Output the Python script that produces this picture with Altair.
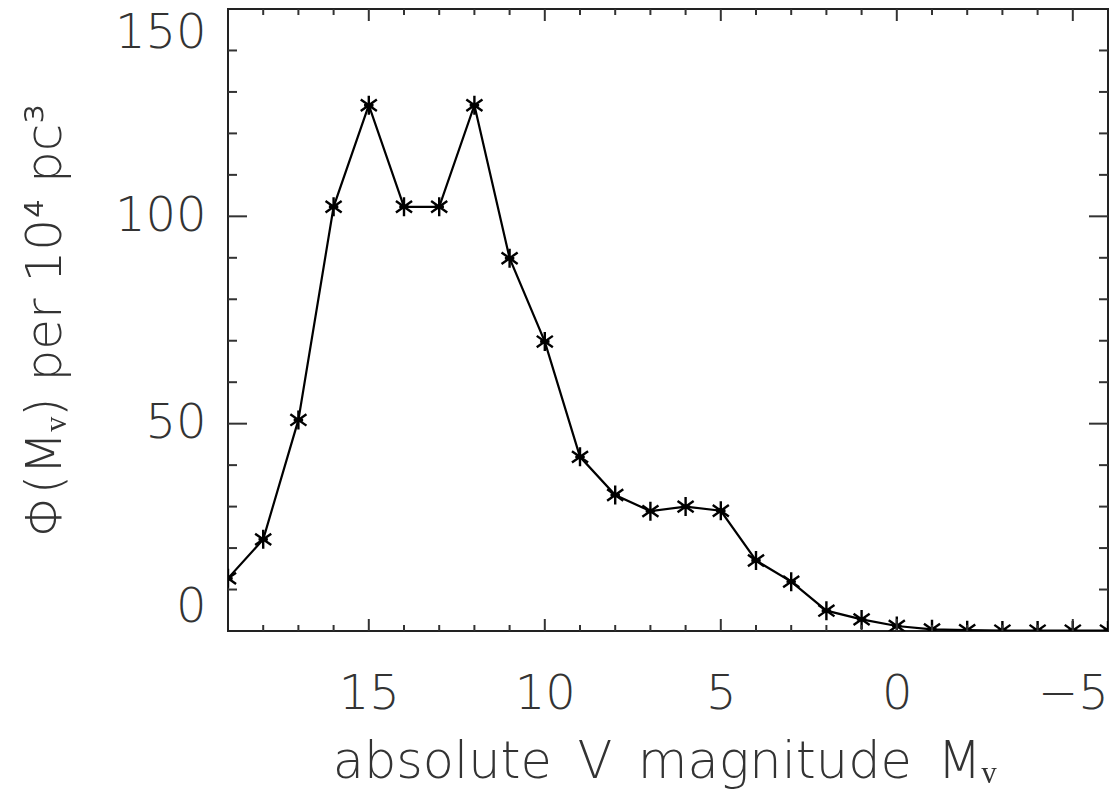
import altair as alt
import pandas as pd

# Data
mag = [19, 18, 17, 16, 15, 14, 13, 12, 11, 10, 9, 8, 7, 6, 5, 4, 3, 2, 1, 0, -1, -2, -3, -4, -5, -6]
phi = [12.7, 22.1, 50.9, 102.3, 126.8, 102.3, 102.3, 126.8, 89.9, 69.8, 42.0, 32.8, 28.9, 30.0,
       29.0, 17.0, 11.9, 4.9, 2.8, 1.2, 0.4, 0.2, 0.1, 0.1, 0.1, 0.1]

x_major = [15, 10, 5, 0, -5]
x_minor = [18, 17, 16, 14, 13, 12, 11, 9, 8, 7, 6, 4, 3, 2, 1, -1, -2, -3, -4]
y_major = [50, 100]
y_minor = [10, 20, 30, 40, 60, 70, 80, 90, 110, 120, 130, 140]

W, H = 880, 622
FONT = "DejaVu Sans"
TXT = "#333333"

df = pd.DataFrame({"mag": mag, "phi": phi})
xs = alt.Scale(domain=[19, -6], nice=False, zero=False)
ys = alt.Scale(domain=[0, 150], nice=False, zero=False)

x_axis = alt.Axis(values=x_major, ticks=False, domain=False, grid=False,
                  labelFont=FONT, labelFontSize=48, labelColor=TXT, labelFontWeight=200,
                  labelPadding=39, labelBaseline="top",
                  title="absolute\u2002V\u2002magnitude\u2002Mᵥ", titleFont=FONT, titleFontSize=51,
                  titleFontWeight=200, titleColor=TXT, titleX=W / 2 - 4, titleY=146,
                  titleBaseline="alphabetic", titleAlign="center")
y_axis = alt.Axis(values=[0, 50, 100, 150], ticks=False, domain=False, grid=False,
                  labelFont=FONT, labelFontSize=48, labelColor=TXT, labelFontWeight=200,
                  labelPadding=22, labelFlush=True, labelFlushOffset=0,
                  title="Φ(Mᵥ) per 10⁴ pc³", titleFont=FONT, titleFontSize=50,
                  titleFontWeight=200, titleColor=TXT, titleX=-168, titleY=H / 2,
                  titleAngle=-90, titleBaseline="alphabetic", titleAlign="center")

line = alt.Chart(df).mark_line(color="black", strokeWidth=2.2, clip=True).encode(
    x=alt.X("mag:Q", scale=xs, axis=x_axis),
    y=alt.Y("phi:Q", scale=ys, axis=y_axis),
)

ast = "M0,-1L0,1M-0.85,-0.6L0.85,0.6M-0.85,0.6L0.85,-0.6M-0.5,0L0.5,0"
pts = alt.Chart(df).mark_point(shape=ast, size=360, filled=False, color="black",
                               strokeWidth=2.4, opacity=1, clip=True).encode(
    x=alt.X("mag:Q", scale=xs),
    y=alt.Y("phi:Q", scale=ys),
)

tick_col = "#333333"
xmaj = pd.DataFrame({"v": x_major})
xmin = pd.DataFrame({"v": x_minor})
ymaj = pd.DataFrame({"v": y_major})
ymin = pd.DataFrame({"v": y_minor})


def xticks(d, length):
    b = alt.Chart(d).mark_rule(color=tick_col, strokeWidth=2).encode(
        x=alt.X("v:Q", scale=xs), y=alt.value(H), y2=alt.value(H - length))
    t = alt.Chart(d).mark_rule(color=tick_col, strokeWidth=2).encode(
        x=alt.X("v:Q", scale=xs), y=alt.value(0), y2=alt.value(length))
    return [b, t]


def yticks(d, length):
    l = alt.Chart(d).mark_rule(color=tick_col, strokeWidth=2).encode(
        y=alt.Y("v:Q", scale=ys), x=alt.value(0), x2=alt.value(length))
    r = alt.Chart(d).mark_rule(color=tick_col, strokeWidth=2).encode(
        y=alt.Y("v:Q", scale=ys), x=alt.value(W), x2=alt.value(W - length))
    return [l, r]


layers = [line, pts] + xticks(xmaj, 12) + xticks(xmin, 6) + yticks(ymaj, 19) + yticks(ymin, 9)

chart = alt.layer(*layers).properties(
    width=W, height=H,
    autosize=alt.AutoSizeParams(type="none"),
    padding={"left": 228, "top": 9, "right": 3, "bottom": 161},
    background="white",
).configure_view(stroke="#222222", strokeWidth=2)

chart.save("out.html", embed_options={"renderer": "svg", "actions": False})
